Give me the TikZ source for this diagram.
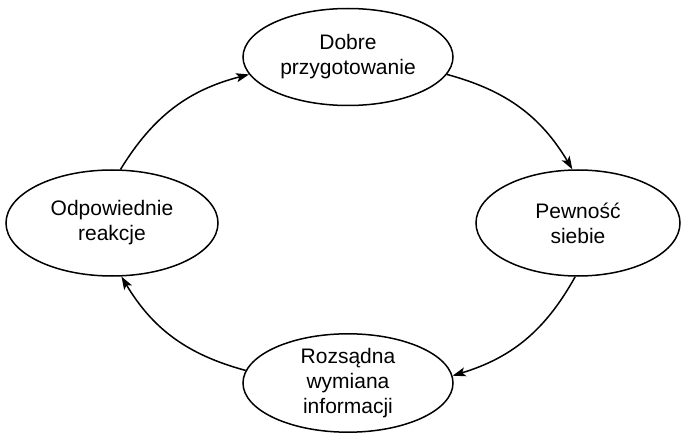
\documentclass[tikz,border=0pt]{standalone}
\usepackage{fontspec}
\setmainfont{Liberation Sans}
\usetikzlibrary{shapes.geometric,arrows.meta}
\begin{document}
\begin{tikzpicture}[x=1pt,y=1pt,
  stage/.style={ellipse,draw,line width=1.5pt,inner sep=0pt,align=center,
    font=\fontsize{21}{25}\selectfont},
  flow/.style={line width=1.5pt,-{Stealth[length=13pt,width=9pt,inset=3pt]},bend left=22}]
\useasboundingbox (0,0) rectangle (681,432);
\node[stage,minimum width=210pt,minimum height=97pt] (T) at (348,375) {Dobre\\przygotowanie};
\node[stage,minimum width=204pt,minimum height=106pt] (R) at (578,209) {Pewność\\siebie};
\node[stage,minimum width=210pt,minimum height=96pt] (B) at (348,49) {Rozsądna\\wymiana\\informacji};
\node[stage,minimum width=212pt,minimum height=106pt] (L) at (112,209) {Odpowiednie\\reakcje};
\draw[flow] (L.81) to (T.190);
\draw[flow] (T.350) to (R.96);
\draw[flow] (R.267) to (B.4);
\draw[flow] (B.173) to (L.280);
\end{tikzpicture}
\end{document}
